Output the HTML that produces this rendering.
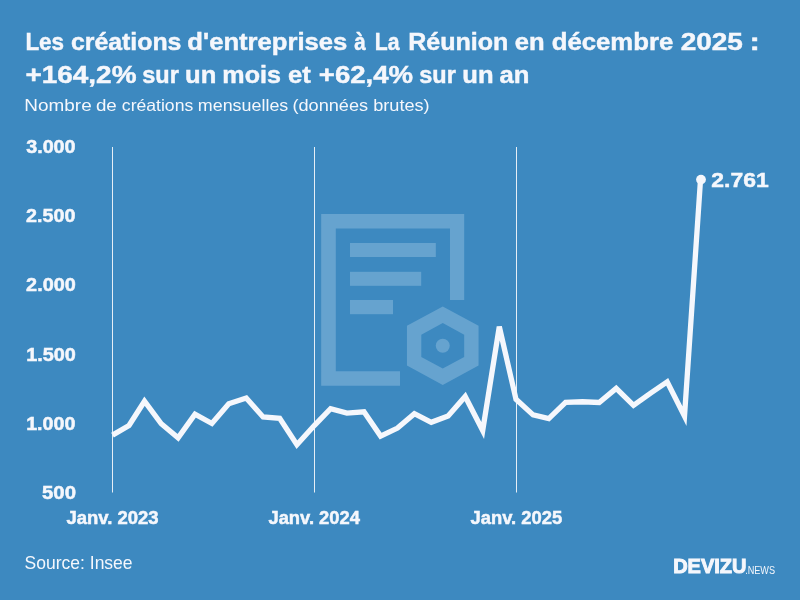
<!DOCTYPE html>
<html><head><meta charset="utf-8"><style>
html,body{margin:0;padding:0;width:800px;height:600px;overflow:hidden;background:#3d89c0;}
svg{display:block;will-change:transform;}
text{font-family:"Liberation Sans",sans-serif;fill:#f5f7fc;}
</style></head><body>
<svg width="800" height="600" viewBox="0 0 800 600">
<rect width="800" height="600" fill="#3d89c0"/>
<g fill="#66a3cf">
<path d="M321.2,214 H464.2 V300 H450 V228.4 H335.8 V371.2 H400 V385.8 H321.2 Z"/>
<rect x="350" y="243" width="85.8" height="14"/>
<rect x="350" y="271.8" width="71.2" height="14"/>
<rect x="350" y="300" width="43" height="14.2"/>
<path fill-rule="evenodd" d="M442.75,306.6 L478.55,325.8 L478.55,365.6 L442.75,384.9 L406.95,365.6 L406.95,325.8 Z M442.75,323 L464.2,334.7 L464.2,356.9 L442.75,368.6 L421.3,356.9 L421.3,334.7 Z"/>
<circle cx="442.75" cy="345.8" r="7"/>
</g>
<g stroke="#e6eef6" stroke-width="1">
<line x1="112.5" y1="147" x2="112.5" y2="492.5"/>
<line x1="314.5" y1="147" x2="314.5" y2="492.5"/>
<line x1="516.5" y1="147" x2="516.5" y2="492.5"/>
</g>
<path d="M112.5,435.1 L129,425.5 L144.5,401.2 L161.25,423.75 L178.1,437.8 L195,414.1 L211.9,423.5 L228.75,403.7 L246.25,398.1 L263.1,417 L279.7,418.3 L296.9,444.7 L314.5,425.3 L330.6,408.7 L346.9,413.1 L364,411.75 L380.6,436.1 L397.5,428.1 L414.4,413.75 L431.25,422.25 L448.1,416 L465.2,396.5 L482.7,430.5 L499.3,326.7 L516,399.25 L533.1,414.9 L548.75,418.6 L565.6,402.4 L582.5,401.75 L599.2,402.5 L616.2,388.4 L633.5,405.4 L650.3,393.3 L667.2,381.8 L684.5,416.2 L700.5,180" fill="none" stroke="#f5f7fc" stroke-width="5.3" stroke-linejoin="miter" stroke-miterlimit="4"/>
<circle cx="701" cy="179.6" r="4.9" fill="#f5f7fc"/>
<text x="25.42" y="49.60" font-size="24" font-weight="700" textLength="38.69" lengthAdjust="spacingAndGlyphs" stroke="#f5f7fc" stroke-width="0.45">Les</text>
<text x="70.92" y="49.60" font-size="24" font-weight="700" textLength="110.54" lengthAdjust="spacingAndGlyphs" stroke="#f5f7fc" stroke-width="0.45">créations</text>
<text x="187.39" y="49.60" font-size="24" font-weight="700" textLength="159.96" lengthAdjust="spacingAndGlyphs" stroke="#f5f7fc" stroke-width="0.45">d'entreprises</text>
<text x="354.29" y="49.60" font-size="24" font-weight="700" textLength="11.47" lengthAdjust="spacingAndGlyphs" stroke="#f5f7fc" stroke-width="0.45">à</text>
<text x="374.79" y="49.60" font-size="24" font-weight="700" textLength="24.74" lengthAdjust="spacingAndGlyphs" stroke="#f5f7fc" stroke-width="0.45">La</text>
<text x="408.24" y="49.60" font-size="24" font-weight="700" textLength="100.20" lengthAdjust="spacingAndGlyphs" stroke="#f5f7fc" stroke-width="0.45">Réunion</text>
<text x="514.79" y="49.60" font-size="24" font-weight="700" textLength="29.86" lengthAdjust="spacingAndGlyphs" stroke="#f5f7fc" stroke-width="0.45">en</text>
<text x="551.69" y="49.60" font-size="24" font-weight="700" textLength="121.53" lengthAdjust="spacingAndGlyphs" stroke="#f5f7fc" stroke-width="0.45">décembre</text>
<text x="680.70" y="49.60" font-size="24" font-weight="700" textLength="62.24" lengthAdjust="spacingAndGlyphs" stroke="#f5f7fc" stroke-width="0.45">2025</text>
<text x="749.59" y="49.60" font-size="24" font-weight="700" textLength="10.36" lengthAdjust="spacingAndGlyphs" stroke="#f5f7fc" stroke-width="0.45">:</text>
<text x="25.45" y="82.90" font-size="24" font-weight="700" textLength="111.06" lengthAdjust="spacingAndGlyphs" stroke="#f5f7fc" stroke-width="0.45">+164,2%</text>
<text x="142.28" y="82.90" font-size="24" font-weight="700" textLength="36.54" lengthAdjust="spacingAndGlyphs" stroke="#f5f7fc" stroke-width="0.45">sur</text>
<text x="185.10" y="82.90" font-size="24" font-weight="700" textLength="31.27" lengthAdjust="spacingAndGlyphs" stroke="#f5f7fc" stroke-width="0.45">un</text>
<text x="222.38" y="82.90" font-size="24" font-weight="700" textLength="58.51" lengthAdjust="spacingAndGlyphs" stroke="#f5f7fc" stroke-width="0.45">mois</text>
<text x="287.93" y="82.90" font-size="24" font-weight="700" textLength="22.78" lengthAdjust="spacingAndGlyphs" stroke="#f5f7fc" stroke-width="0.45">et</text>
<text x="318.82" y="82.90" font-size="24" font-weight="700" textLength="94.26" lengthAdjust="spacingAndGlyphs" stroke="#f5f7fc" stroke-width="0.45">+62,4%</text>
<text x="419.28" y="82.90" font-size="24" font-weight="700" textLength="36.54" lengthAdjust="spacingAndGlyphs" stroke="#f5f7fc" stroke-width="0.45">sur</text>
<text x="462.36" y="82.90" font-size="24" font-weight="700" textLength="31.29" lengthAdjust="spacingAndGlyphs" stroke="#f5f7fc" stroke-width="0.45">un</text>
<text x="499.50" y="82.90" font-size="24" font-weight="700" textLength="29.91" lengthAdjust="spacingAndGlyphs" stroke="#f5f7fc" stroke-width="0.45">an</text>
<text x="24.38" y="110.80" font-size="16.5" font-weight="400" textLength="67.29" lengthAdjust="spacingAndGlyphs" fill="#eef3f9">Nombre</text>
<text x="95.92" y="110.80" font-size="16.5" font-weight="400" textLength="20.91" lengthAdjust="spacingAndGlyphs" fill="#eef3f9">de</text>
<text x="121.87" y="110.80" font-size="16.5" font-weight="400" textLength="71.37" lengthAdjust="spacingAndGlyphs" fill="#eef3f9">créations</text>
<text x="197.83" y="110.80" font-size="16.5" font-weight="400" textLength="90.48" lengthAdjust="spacingAndGlyphs" fill="#eef3f9">mensuelles</text>
<text x="292.44" y="110.80" font-size="16.5" font-weight="400" textLength="75.72" lengthAdjust="spacingAndGlyphs" fill="#eef3f9">(données</text>
<text x="373.17" y="110.80" font-size="16.5" font-weight="400" textLength="56.51" lengthAdjust="spacingAndGlyphs" fill="#eef3f9">brutes)</text>
<text x="26.17" y="152.80" font-size="18.5" font-weight="700" textLength="49.44" lengthAdjust="spacingAndGlyphs" stroke="#f5f7fc" stroke-width="0.5">3.000</text>
<text x="26.14" y="221.80" font-size="18.5" font-weight="700" textLength="49.28" lengthAdjust="spacingAndGlyphs" stroke="#f5f7fc" stroke-width="0.5">2.500</text>
<text x="26.14" y="290.80" font-size="18.5" font-weight="700" textLength="49.59" lengthAdjust="spacingAndGlyphs" stroke="#f5f7fc" stroke-width="0.5">2.000</text>
<text x="26.20" y="360.60" font-size="18.5" font-weight="700" textLength="49.59" lengthAdjust="spacingAndGlyphs" stroke="#f5f7fc" stroke-width="0.5">1.500</text>
<text x="26.20" y="429.60" font-size="18.5" font-weight="700" textLength="49.21" lengthAdjust="spacingAndGlyphs" stroke="#f5f7fc" stroke-width="0.5">1.000</text>
<text x="42.04" y="498.70" font-size="18.5" font-weight="700" textLength="33.96" lengthAdjust="spacingAndGlyphs" stroke="#f5f7fc" stroke-width="0.5">500</text>
<text x="66.49" y="524.20" font-size="18" font-weight="700" textLength="92.17" lengthAdjust="spacingAndGlyphs" stroke="#f5f7fc" stroke-width="0.5">Janv. 2023</text>
<text x="268.48" y="524.20" font-size="18" font-weight="700" textLength="91.45" lengthAdjust="spacingAndGlyphs" stroke="#f5f7fc" stroke-width="0.5">Janv. 2024</text>
<text x="470.48" y="524.20" font-size="18" font-weight="700" textLength="91.67" lengthAdjust="spacingAndGlyphs" stroke="#f5f7fc" stroke-width="0.5">Janv. 2025</text>
<text x="711.32" y="187.10" font-size="21" font-weight="700" textLength="57.33" lengthAdjust="spacingAndGlyphs" stroke="#f5f7fc" stroke-width="0.5">2.761</text>
<text x="24.62" y="569.40" font-size="18.5" font-weight="400" textLength="107.97" lengthAdjust="spacingAndGlyphs" fill="#dfe9f3">Source: Insee</text>
<text x="673.13" y="572.60" font-size="21" font-weight="700" textLength="73.31" lengthAdjust="spacingAndGlyphs" stroke="#f5f7fc" stroke-width="1.0">DEVIZU</text>
<text x="745.15" y="573.50" font-size="10" font-weight="400" textLength="29.92" lengthAdjust="spacingAndGlyphs" fill="#eef3f9">.NEWS</text>
</svg>
</body></html>
